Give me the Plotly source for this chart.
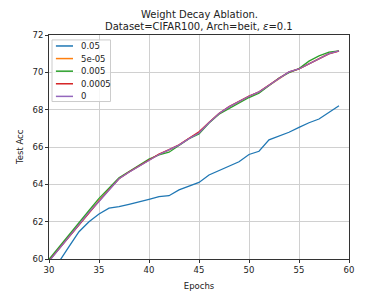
import plotly.graph_objects as go

epochs = list(range(30, 60))

wd_labels = ["0.05", "5e-05", "0.005", "0.0005", "0"]

acc_0_05 = [58.95, 59.85, 60.66, 61.46, 62.00, 62.41, 62.72, 62.80, 62.93, 63.05,
            63.20, 63.34, 63.39, 63.70, 63.88, 64.10, 64.50, 64.73, 64.95, 65.21,
            65.60, 65.77, 66.38, 66.57, 66.79, 67.05, 67.30, 67.50, 67.84, 68.21]

acc_5e_05 = [59.92, 60.57, 61.22, 61.88, 62.52, 63.12, 63.74, 64.31, 64.66, 64.99,
             65.31, 65.61, 65.84, 66.10, 66.46, 66.76, 67.31, 67.80, 68.14, 68.44,
             68.71, 68.94, 69.30, 69.67, 70.00, 70.18, 70.46, 70.76, 71.01, 71.15]

acc_0_005 = [59.98, 60.62, 61.27, 61.93, 62.60, 63.25, 63.82, 64.35, 64.68, 65.02,
             65.35, 65.58, 65.72, 66.08, 66.44, 66.70, 67.28, 67.76, 68.05, 68.38,
             68.65, 68.88, 69.30, 69.70, 69.98, 70.20, 70.60, 70.88, 71.08, 71.15]

acc_0_0005 = [59.90, 60.55, 61.20, 61.86, 62.50, 63.10, 63.70, 64.30, 64.66, 64.98,
              65.30, 65.62, 65.86, 66.12, 66.46, 66.82, 67.32, 67.80, 68.16, 68.46,
              68.73, 68.96, 69.30, 69.68, 70.03, 70.18, 70.45, 70.74, 70.99, 71.14]

acc_0 = [59.88, 60.53, 61.19, 61.86, 62.50, 63.08, 63.70, 64.30, 64.65, 64.98,
         65.30, 65.60, 65.85, 66.10, 66.45, 66.75, 67.30, 67.80, 68.15, 68.45,
         68.72, 68.95, 69.30, 69.68, 70.02, 70.18, 70.45, 70.75, 71.00, 71.15]

series = [acc_0_05, acc_5e_05, acc_0_005, acc_0_0005, acc_0]
colors = ["#1f77b4", "#ff7f0e", "#2ca02c", "#d62728", "#9467bd"]

font_family = "DejaVu Sans"
txt_color = "#222222"

fig = go.Figure()
for name, ys, c in zip(wd_labels, series, colors):
    fig.add_trace(go.Scatter(x=epochs, y=ys, mode="lines", name=name,
                             line=dict(color=c, width=1.3), showlegend=False))

# matplotlib-style legend box (upper left, inside axes)
shapes = [dict(type="rect", xref="paper", yref="paper", x0=0.01, x1=0.205,
               y0=0.703, y1=0.978, line=dict(color="#cccccc", width=1),
               fillcolor="rgba(255,255,255,0.8)", layer="above")]
annotations = []
row_gap = 12.6 / 224.0
for i, (name, c) in enumerate(zip(wd_labels, colors)):
    yy = 0.951 - i * row_gap
    shapes.append(dict(type="line", xref="paper", yref="paper", x0=0.023, x1=0.08,
                       y0=yy, y1=yy, line=dict(color=c, width=1.5), layer="above"))
    annotations.append(dict(text=name, xref="paper", yref="paper", x=0.1, y=yy,
                            xanchor="left", yanchor="middle", showarrow=False,
                            font=dict(family=font_family, size=8.5, color=txt_color)))

annotations += [
    dict(text="Weight Decay Ablation.", xref="paper", yref="paper", x=0.5, y=1,
         yshift=13, xanchor="center", yanchor="bottom", showarrow=False,
         font=dict(family=font_family, size=10, color=txt_color)),
    dict(text="Dataset=CIFAR100, Arch=beit, <i>ε</i>=0.1", xref="paper", yref="paper",
         x=0.5, y=1, yshift=1, xanchor="center", yanchor="bottom", showarrow=False,
         font=dict(family=font_family, size=10, color=txt_color)),
    dict(text="Test Acc", xref="paper", yref="paper", x=0, y=0.5, xshift=-29,
         xanchor="center", yanchor="middle", textangle=-90, showarrow=False,
         font=dict(family=font_family, size=8.5, color=txt_color)),
]

axis_common = dict(
    showgrid=True, gridcolor="#d0d0d0", gridwidth=1,
    showline=True, linecolor="#333333", linewidth=1, mirror=True,
    ticks="outside", ticklen=3, tickcolor="#333333", tickwidth=1,
    tickfont=dict(family=font_family, size=8.5, color=txt_color),
    zeroline=False, automargin=False,
)

fig.update_layout(
    width=388, height=291,
    margin=dict(l=49, r=39, t=35, b=32),
    paper_bgcolor="white", plot_bgcolor="white",
    font=dict(family=font_family, size=8.5, color=txt_color),
    showlegend=False,
    xaxis=dict(range=[30, 60], tickmode="array", tickvals=[30, 35, 40, 45, 50, 55, 60],
               title=dict(text="Epochs", font=dict(family=font_family, size=8.5)),
               **axis_common),
    yaxis=dict(range=[60, 72], tickmode="array", tickvals=[60, 62, 64, 66, 68, 70, 72],
               **axis_common),
    shapes=shapes,
    annotations=annotations,
)

fig.write_html("out.html", config={"displayModeBar": False},
               post_script="document.body.style.margin='0';document.body.style.padding='0';")
